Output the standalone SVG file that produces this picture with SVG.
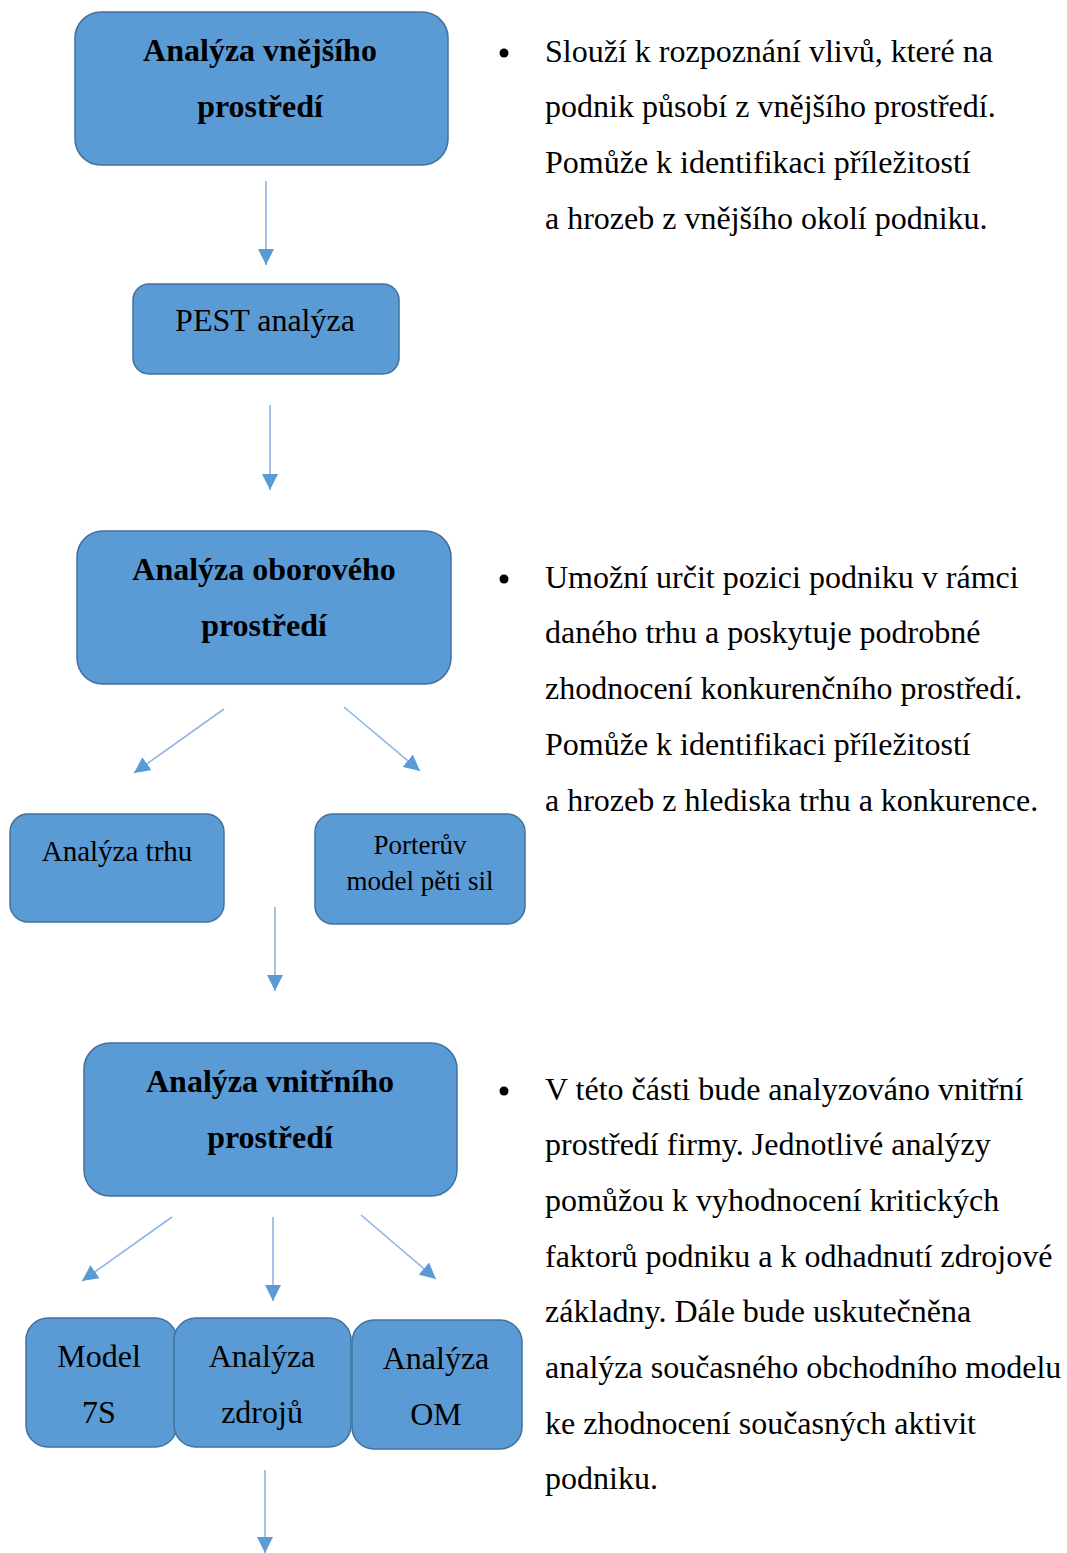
<svg xmlns="http://www.w3.org/2000/svg" width="1067" height="1553" viewBox="0 0 1067 1553">
  <style>
    .box { fill: #5B9BD5; stroke: #41719C; stroke-width: 1.5; }
    .t { font-family: "Liberation Serif", "Times New Roman", serif; fill: #000; }
    .lbl { font-size: 32px; text-anchor: middle; }
    .b { font-weight: bold; }
    .sm { font-size: 28px; text-anchor: middle; }
    .note { font-size: 32px; }
    .edge { stroke: #8DB6E3; stroke-width: 1.6; fill: none; marker-end: url(#head); }
    .dot { fill: #000; }
  </style>
  <defs>
    <marker id="head" viewBox="0 0 16 16" refX="16" refY="8" markerWidth="16" markerHeight="16" markerUnits="userSpaceOnUse" orient="auto">
      <path d="M0,0 L16,8 L0,16 z" fill="#5B9BD5"/>
    </marker>
  </defs>
  <rect width="1067" height="1553" fill="#fff"/>

  <!-- connectors -->
  <g id="connectors">
    <line class="edge" x1="266" y1="181" x2="266" y2="265"/>
    <line class="edge" x1="270" y1="405" x2="270" y2="490"/>
    <line class="edge" x1="224" y1="709" x2="134" y2="773"/>
    <line class="edge" x1="344" y1="707" x2="420" y2="771"/>
    <line class="edge" x1="275" y1="907" x2="275" y2="991"/>
    <line class="edge" x1="172" y1="1217" x2="82" y2="1281"/>
    <line class="edge" x1="273" y1="1217" x2="273" y2="1301"/>
    <line class="edge" x1="361" y1="1215" x2="436" y2="1279"/>
    <line class="edge" x1="265" y1="1470" x2="265" y2="1553"/>
  </g>

  <!-- external environment -->
  <g id="n-vnejsi">
    <rect class="box" x="75" y="12" width="373" height="153" rx="26"/>
    <text class="t lbl b" x="260" y="61">Analýza vnějšího</text>
    <text class="t lbl b" x="260" y="117">prostředí</text>
  </g>
  <g id="n-pest">
    <rect class="box" x="133" y="284" width="266" height="90" rx="16"/>
    <text class="t lbl" x="265" y="331">PEST analýza</text>
  </g>

  <!-- industry environment -->
  <g id="n-oborove">
    <rect class="box" x="77" y="531" width="374" height="153" rx="26"/>
    <text class="t lbl b" x="264" y="580">Analýza oborového</text>
    <text class="t lbl b" x="264" y="636">prostředí</text>
  </g>
  <g id="n-trh">
    <rect class="box" x="10" y="814" width="214" height="108" rx="18"/>
    <text class="t lbl" x="117" y="861" style="font-size:29px">Analýza trhu</text>
  </g>
  <g id="n-porter">
    <rect class="box" x="315" y="814" width="210" height="110" rx="18"/>
    <text class="t sm" x="420" y="854" style="font-size:27px">Porterův</text>
    <text class="t sm" x="420" y="890" style="font-size:27px">model pěti sil</text>
  </g>

  <!-- internal environment -->
  <g id="n-vnitrni">
    <rect class="box" x="84" y="1043" width="373" height="153" rx="26"/>
    <text class="t lbl b" x="270" y="1092">Analýza vnitřního</text>
    <text class="t lbl b" x="270" y="1148">prostředí</text>
  </g>
  <g id="n-7s">
    <rect class="box" x="26" y="1318" width="151" height="129" rx="22"/>
    <text class="t lbl" x="99" y="1367">Model</text>
    <text class="t lbl" x="99" y="1423">7S</text>
  </g>
  <g id="n-zdroje">
    <rect class="box" x="174" y="1318" width="177" height="129" rx="22"/>
    <text class="t lbl" x="262" y="1367">Analýza</text>
    <text class="t lbl" x="262" y="1423">zdrojů</text>
  </g>
  <g id="n-om">
    <rect class="box" x="352" y="1320" width="170" height="129" rx="22"/>
    <text class="t lbl" x="436" y="1369">Analýza</text>
    <text class="t lbl" x="436" y="1425">OM</text>
  </g>

  <!-- descriptions -->
  <g id="note-vnejsi">
    <circle class="dot" cx="504" cy="53" r="4.5"/>
    <text class="t note" x="545" y="62">Slouží k rozpoznání vlivů, které na</text>
    <text class="t note" x="545" y="117">podnik působí z vnějšího prostředí.</text>
    <text class="t note" x="545" y="173">Pomůže k identifikaci příležitostí</text>
    <text class="t note" x="545" y="229">a hrozeb z vnějšího okolí podniku.</text>
  </g>
  <g id="note-oborove">
    <circle class="dot" cx="504" cy="579" r="4.5"/>
    <text class="t note" x="545" y="588">Umožní určit pozici podniku v rámci</text>
    <text class="t note" x="545" y="643">daného trhu a poskytuje podrobné</text>
    <text class="t note" x="545" y="699">zhodnocení konkurenčního prostředí.</text>
    <text class="t note" x="545" y="755">Pomůže k identifikaci příležitostí</text>
    <text class="t note" x="545" y="811">a hrozeb z hlediska trhu a konkurence.</text>
  </g>
  <g id="note-vnitrni">
    <circle class="dot" cx="504" cy="1091" r="4.5"/>
    <text class="t note" x="545" y="1100">V této části bude analyzováno vnitřní</text>
    <text class="t note" x="545" y="1155">prostředí firmy. Jednotlivé analýzy</text>
    <text class="t note" x="545" y="1211">pomůžou k vyhodnocení kritických</text>
    <text class="t note" x="545" y="1267">faktorů podniku a k odhadnutí zdrojové</text>
    <text class="t note" x="545" y="1322">základny. Dále bude uskutečněna</text>
    <text class="t note" x="545" y="1378">analýza současného obchodního modelu</text>
    <text class="t note" x="545" y="1434">ke zhodnocení současných aktivit</text>
    <text class="t note" x="545" y="1489">podniku.</text>
  </g>
</svg>
